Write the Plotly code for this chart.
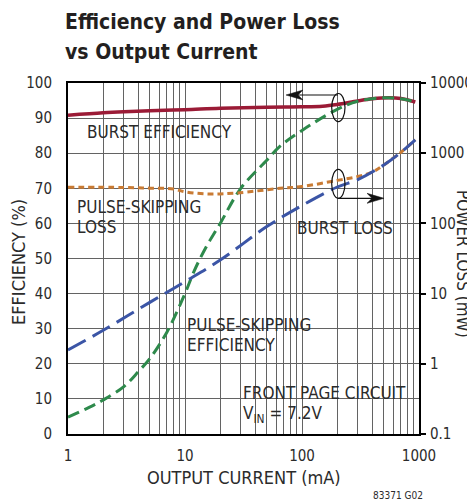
import plotly.graph_objects as go

# ---------------- data ----------------
burst_eff_x = [1, 2, 3, 5, 10, 20, 50, 100, 150, 200, 300, 400, 550, 700, 930]
burst_eff_y = [90.8, 91.5, 91.8, 92.1, 92.4, 92.8, 93.1, 93.2, 93.4, 93.9, 94.9, 95.5, 95.8, 95.6, 94.6]

ps_eff_x = [1, 1.5, 2, 3, 4, 5, 7, 10, 12, 15, 20, 30, 50, 65, 100, 200, 300, 500, 700, 930]
ps_eff_y = [4.8, 7.5, 9.7, 13.5, 17.8, 21.5, 29, 40, 46.5, 53, 60, 70, 78, 82, 86.5, 92.5, 94.8, 95.8, 95.5, 94.6]

burst_loss_x = [1, 2, 5, 10, 20, 50, 100, 200, 300, 500, 700, 930]
burst_loss_y = [1.57, 3.0, 7.5, 14.8, 30, 90, 180, 330, 420, 680, 1030, 1550]

ps_loss_x = [1, 3, 5, 8, 10, 16, 28, 65, 100, 200, 300, 400, 500, 700, 930]
ps_loss_y = [327, 325, 318, 309, 282, 262, 272, 316, 335, 410, 465, 540, 680, 1030, 1550]

x_major = [1, 10, 100, 1000]
x_ticktext = ["1", "10", "100", "1000"]
x_minor = [m * d for d in [1, 10, 100] for m in range(2, 10)]
eff_ticks = list(range(0, 101, 10))
loss_ticks = [0.1, 1, 10, 100, 1000, 10000]
loss_ticktext = ["0.1", "1", "10", "100", "1000", "10000"]

# ---------------- style ----------------
OFF = 8                      # page body margin in the browser
PW, PH = 475, 501            # visible window
W, H = PW - OFF, PH - OFF
L, R, T, B = 68, 419, 83, 434   # plot area in window pixels
FONT = "DejaVu Sans Condensed, DejaVu Sans, sans-serif"
TXT = "#2b2b2b"
GRID = "#636363"


def px(x):
    return (x - L) / (R - L)


def py(y):
    return (B - y) / (B - T)


fig = go.Figure()
fig.add_trace(go.Scatter(x=ps_loss_x, y=ps_loss_y, yaxis="y2", mode="lines",
                         line=dict(color="#C97B34", width=3, dash="6px,4px", shape="spline")))
fig.add_trace(go.Scatter(x=burst_loss_x, y=burst_loss_y, yaxis="y2", mode="lines",
                         line=dict(color="#3B55A6", width=3, dash="20px,8px", shape="spline")))
fig.add_trace(go.Scatter(x=burst_eff_x, y=burst_eff_y, mode="lines",
                         line=dict(color="#9B1B36", width=3.5, shape="spline")))
fig.add_trace(go.Scatter(x=ps_eff_x, y=ps_eff_y, mode="lines",
                         line=dict(color="#2E8A4C", width=3, dash="12px,6px", shape="spline")))

shapes = []
# white label boxes masking gridlines
for (x0, x1, y0, y1) in [(82, 236, 120, 143), (69, 208, 195, 240), (295, 398, 217, 240),
                         (181, 316, 313, 355), (237, 413, 378, 427)]:
    shapes.append(dict(type="rect", xref="paper", yref="paper", x0=px(x0), x1=px(x1),
                       y0=py(y1), y1=py(y0), fillcolor="white", line=dict(width=0),
                       layer="between"))
# ellipses
for (x0, x1, y0, y1) in [(331.7, 345, 93.5, 121.7), (331.7, 345, 169.3, 198.3)]:
    shapes.append(dict(type="circle", xref="paper", yref="paper", x0=px(x0), x1=px(x1),
                       y0=py(y1), y1=py(y0), line=dict(color="#111", width=1.2),
                       fillcolor="rgba(0,0,0,0)", layer="above"))


def arrow(xs, xt, y, d):
    shapes.append(dict(type="line", xref="paper", yref="paper", x0=px(xs), x1=px(xt + d * 8),
                       y0=py(y), y1=py(y), line=dict(color="#111", width=1.2), layer="above"))
    path = "M {:.5f},{:.5f} L {:.5f},{:.5f} L {:.5f},{:.5f} L {:.5f},{:.5f} Z".format(
        px(xt), py(y), px(xt + d * 17), py(y - 5), px(xt + d * 12), py(y),
        px(xt + d * 17), py(y + 5))
    shapes.append(dict(type="path", xref="paper", yref="paper", path=path,
                       fillcolor="#111", line=dict(color="#111", width=0.5), layer="above"))


arrow(338, 286, 95, 1)
arrow(338, 384, 198.3, -1)

annotations = []


def label(text, x, y, size=17, anchor="left", angle=0, color=TXT, family=FONT):
    annotations.append(dict(text=text, xref="paper", yref="paper", x=px(x), y=py(y),
                            xanchor=anchor, yanchor="middle", showarrow=False,
                            textangle=angle, borderpad=0,
                            font=dict(family=family, size=size, color=color)))


label("BURST EFFICIENCY", 86, 132)
label("PULSE-SKIPPING", 76, 207)
label("LOSS", 76, 227)
label("BURST LOSS", 296, 228)
label("PULSE-SKIPPING", 186, 325)
label("EFFICIENCY", 186, 345)
label("FRONT PAGE CIRCUIT", 242, 393)
label("V<sub>IN</sub> = 7.2V", 242, 414)
label("EFFICIENCY (%)", 18, 262, size=18, anchor="center", angle=-90)
label("POWER LOSS (mW)", 463, 264, size=17, anchor="center", angle=90)
label("OUTPUT CURRENT (mA)", 244, 477, size=18, anchor="center")
label("83371 G02", 398, 495, size=10, anchor="center")
label("<b>Efficiency and Power Loss</b>", 64, 22, size=21, color="#231F20")
label("<b>vs Output Current</b>", 64, 52, size=21, color="#231F20")

fig.update_layout(
    width=W, height=H,
    margin=dict(l=L - OFF, r=PW - R, t=T - OFF, b=PH - B, pad=0, autoexpand=False),
    paper_bgcolor="white", plot_bgcolor="white",
    showlegend=False,
    font=dict(family=FONT, size=15, color=TXT),
    shapes=shapes, annotations=annotations,
    xaxis=dict(type="log", range=[0, 3], tickmode="array", tickvals=x_major, ticktext=x_ticktext,
               tickangle=0, showgrid=True, gridcolor=GRID, gridwidth=1, zeroline=False,
               minor=dict(tickmode="array", tickvals=x_minor, showgrid=True,
                          gridcolor=GRID, gridwidth=1, ticks=""),
               automargin=False, showline=True, linecolor="black", linewidth=2, mirror=True,
               ticks="", ticklabelstandoff=7, tickfont=dict(size=15)),
    yaxis=dict(range=[0, 100], tickvals=eff_ticks, showgrid=True, gridcolor=GRID, gridwidth=1,
               zeroline=False, showline=True, linecolor="black", linewidth=2, mirror=True,
               automargin=False, ticks="", ticklabelstandoff=11, tickfont=dict(size=15)),
    yaxis2=dict(type="log", range=[-1, 4], overlaying="y", side="right", automargin=False,
                tickvals=loss_ticks, ticktext=loss_ticktext, showgrid=False, zeroline=False,
                showline=False, ticks="outside", ticklen=6, tickwidth=2, tickcolor="black",
                ticklabelstandoff=1, tickfont=dict(size=15)),
)

fig.write_html("out.html")
